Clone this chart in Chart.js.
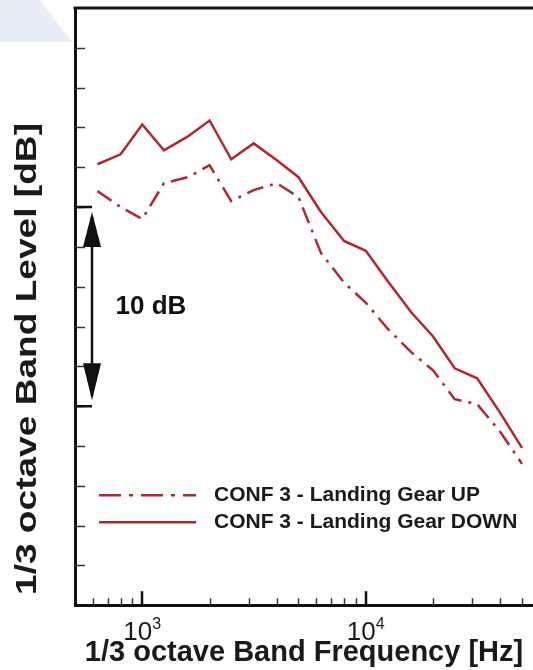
<!DOCTYPE html>
<html>
<head>
<meta charset="utf-8">
<script src="https://cdn.jsdelivr.net/npm/chart.js@4.4.0/dist/chart.umd.min.js"></script>
<style>
  html, body { margin: 0; padding: 0; background: #fff; overflow: hidden; }
  #wrap { width: 533px; height: 670px; }
</style>
</head>
<body>
<div id="wrap"><canvas id="chart" width="533" height="670"></canvas></div>
<script>
// 1/3 octave band centre frequencies [Hz]
const freqs = [630, 800, 1000, 1250, 1600, 2000, 2500, 3150, 4000, 5000,
               6300, 8000, 10000, 12500, 16000, 20000, 25000, 31500, 40000, 50000];
// band levels (relative dB, axis 0..30)
const gearUp   = [20.8, 20.0, 19.4, 21.2, 21.5, 22.1, 20.3, 20.85, 21.2, 20.5,
                  17.7, 16.2, 15.2, 13.9, 12.7, 11.8, 10.35, 10.1, 8.7, 7.1];
const gearDown = [22.15, 22.65, 24.15, 22.85, 23.55, 24.35, 22.4, 23.2, 22.35, 21.5,
                  19.75, 18.3, 17.8, 16.3, 14.7, 13.5, 11.9, 11.4, 9.65, 7.9];
const seriesNames = ['CONF 3 - Landing Gear UP', 'CONF 3 - Landing Gear DOWN'];

// axis ticks
const majorTicks = [1000, 10000];
const majorLabels = ['3', '4'];   // exponent of 10
const minorTicks = [600, 700, 800, 900, 2000, 3000, 4000, 5000, 6000, 7000, 8000, 9000,
                    20000, 30000, 40000, 50000];
const yTicks = [2, 4, 6, 8, 10, 12, 14, 16, 18, 20, 22, 24, 26, 28];
const yTitle = '1/3 octave Band Level [dB]';

const FONT = '"Liberation Sans", Arial, Helvetica, sans-serif';
const RED = '#b3272d';

// light blue corner, ticks pointing inward, tick labels, legend and the 10 dB arrow
const decorPlugin = {
  id: 'decor',
  beforeDraw(chart) {
    const ctx = chart.ctx;
    ctx.save();
    ctx.fillStyle = '#e7eef6';
    ctx.beginPath();
    ctx.moveTo(0, 0); ctx.lineTo(40, 0); ctx.lineTo(72, 42); ctx.lineTo(0, 42);
    ctx.closePath();
    ctx.fill();
    ctx.restore();
  },
  afterDraw(chart) {
    const ctx = chart.ctx;
    const area = chart.chartArea;
    const xs = chart.scales.x, ys = chart.scales.y;
    ctx.save();

    // top frame line
    ctx.strokeStyle = '#111';
    ctx.lineWidth = 3;
    ctx.beginPath();
    ctx.moveTo(area.left - 1.5, area.top);
    ctx.lineTo(area.right, area.top);
    ctx.stroke();

    // y title (stretched a little along its length like the original)
    ctx.save();
    ctx.translate(28, 595);
    ctx.rotate(-Math.PI / 2);
    ctx.font = 'bold 30px ' + FONT;
    const tw = ctx.measureText(yTitle).width;
    ctx.scale(472 / tw, 1);
    ctx.fillStyle = '#1a1a1a';
    ctx.textAlign = 'left';
    ctx.textBaseline = 'middle';
    ctx.fillText(yTitle, 0, 0);
    ctx.restore();

    // y ticks (inward)
    ctx.strokeStyle = '#333';
    ctx.lineWidth = 1.5;
    yTicks.forEach(v => {
      const py = Math.round(ys.getPixelForValue(v)) + 0.5;
      ctx.beginPath();
      ctx.moveTo(area.left, py);
      ctx.lineTo(area.left + 10, py);
      ctx.stroke();
    });

    // x ticks (inward)
    minorTicks.forEach(f => {
      const px = Math.round(xs.getPixelForValue(f)) + 0.5;
      ctx.beginPath();
      ctx.moveTo(px, area.bottom);
      ctx.lineTo(px, area.bottom - 7);
      ctx.stroke();
    });
    ctx.lineWidth = 2.5;
    ctx.strokeStyle = '#111';
    majorTicks.forEach(f => {
      const px = Math.round(xs.getPixelForValue(f));
      ctx.beginPath();
      ctx.moveTo(px, area.bottom);
      ctx.lineTo(px, area.bottom - 14);
      ctx.stroke();
    });

    // x tick labels 10^3, 10^4
    ctx.fillStyle = '#1a1a1a';
    majorTicks.forEach((f, i) => {
      const px = xs.getPixelForValue(f);
      ctx.font = '26px ' + FONT;
      const w10 = ctx.measureText('10').width;
      ctx.font = '16px ' + FONT;
      const wExp = ctx.measureText(majorLabels[i]).width;
      const x0 = px - (w10 + wExp) / 2;
      ctx.textAlign = 'left';
      ctx.textBaseline = 'alphabetic';
      ctx.font = '26px ' + FONT;
      ctx.fillText('10', x0, area.bottom + 35);
      ctx.font = '16px ' + FONT;
      ctx.fillText(majorLabels[i], x0 + w10, area.bottom + 24);
    });

    // 10 dB arrow between y = 10 and y = 20
    const ax = area.left + 17;
    const yTop = ys.getPixelForValue(20), yBot = ys.getPixelForValue(10);
    ctx.strokeStyle = '#111';
    ctx.fillStyle = '#111';
    ctx.lineWidth = 2.5;
    ctx.beginPath();
    ctx.moveTo(area.left, yTop); ctx.lineTo(ax, yTop);
    ctx.moveTo(area.left, yBot); ctx.lineTo(ax, yBot);
    ctx.moveTo(ax, yTop + 10); ctx.lineTo(ax, yBot - 10);
    ctx.stroke();
    ctx.beginPath();
    ctx.moveTo(ax, yTop + 5); ctx.lineTo(ax + 9, yTop + 40); ctx.lineTo(ax - 9, yTop + 40);
    ctx.closePath();
    ctx.fill();
    ctx.beginPath();
    ctx.moveTo(ax, yBot - 6); ctx.lineTo(ax + 9, yBot - 43); ctx.lineTo(ax - 9, yBot - 43);
    ctx.closePath();
    ctx.fill();
    ctx.font = 'bold 26px ' + FONT;
    ctx.textAlign = 'center';
    ctx.textBaseline = 'middle';
    ctx.fillText('10 dB', area.left + 76, ys.getPixelForValue(15));

    // legend inside the plot
    ctx.font = 'bold 21px ' + FONT;
    ctx.textAlign = 'left';
    ctx.textBaseline = 'middle';
    chart.data.datasets.forEach((ds, i) => {
      const ly = area.bottom - 110 + i * 27;
      ctx.strokeStyle = ds.borderColor;
      ctx.lineWidth = ds.borderWidth;
      ctx.setLineDash(ds.legendDash || ds.borderDash || []);
      ctx.beginPath();
      ctx.moveTo(area.left + 24, ly);
      ctx.lineTo(area.left + 121, ly);
      ctx.stroke();
      ctx.setLineDash([]);
      ctx.fillStyle = '#1a1a1a';
      ctx.fillText(ds.label, area.left + 139, ly);
    });

    ctx.restore();
  }
};

new Chart(document.getElementById('chart'), {
  type: 'line',
  data: {
    datasets: [
      {
        label: seriesNames[0],
        data: freqs.map((f, i) => ({ x: f, y: gearUp[i] })),
        borderColor: RED,
        borderWidth: 2.5,
        borderDash: [17, 7, 3, 7],
        legendDash: [22, 8, 4, 8],
        pointRadius: 0,
        tension: 0,
        fill: false
      },
      {
        label: seriesNames[1],
        data: freqs.map((f, i) => ({ x: f, y: gearDown[i] })),
        borderColor: RED,
        borderWidth: 2.5,
        pointRadius: 0,
        tension: 0,
        fill: false
      }
    ]
  },
  options: {
    responsive: false,
    animation: false,
    layout: { padding: { top: 8, right: 0, left: 75, bottom: 0 } },
    plugins: {
      legend: { display: false },
      tooltip: { enabled: false }
    },
    scales: {
      x: {
        type: 'logarithmic',
        min: 500,
        max: 56000,
        ticks: { display: false },
        grid: { drawOnChartArea: false, drawTicks: false },
        border: { color: '#111', width: 3 },
        title: {
          display: true,
          text: '1/3 octave Band Frequency [Hz]',
          color: '#1a1a1a',
          font: { family: FONT, size: 29, weight: 'bold', lineHeight: 1.2 },
          padding: { top: 30, bottom: 0 }
        }
      },
      y: {
        min: 0,
        max: 30,
        ticks: { display: false, stepSize: 2 },
        grid: { drawOnChartArea: false, drawTicks: false },
        border: { color: '#111', width: 3 },
        title: { display: false }
      }
    }
  },
  plugins: [decorPlugin]
});
</script>
</body>
</html>
